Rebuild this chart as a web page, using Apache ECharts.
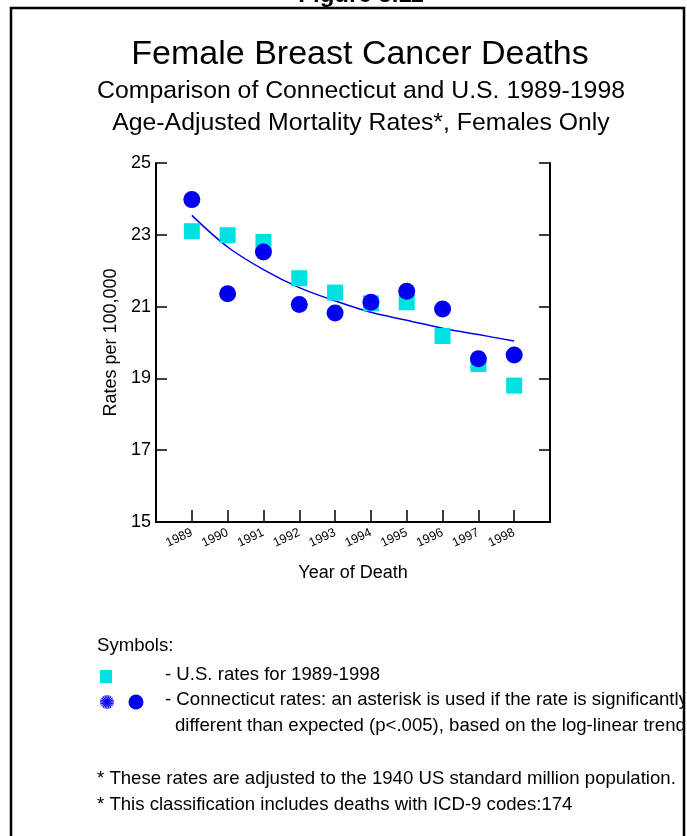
<!DOCTYPE html>
<html>
<head>
<meta charset="utf-8">
<script src="https://cdn.jsdelivr.net/npm/echarts@6/dist/echarts.min.js"></script>
<style>
  html, body { margin: 0; padding: 0; background: #fff; }
  #chart { width: 687px; height: 836px; }
</style>
</head>
<body>
<div id="chart"></div>
<script>
// Age-adjusted female breast cancer mortality, per 100,000
const years = [1989, 1990, 1991, 1992, 1993, 1994, 1995, 1996, 1997, 1998];
const usRates = [23.10, 22.99, 22.80, 21.79, 21.39, 21.09, 21.12, 20.18, 19.40, 18.80];
const ctRates = [23.98, 21.36, 22.52, 21.06, 20.82, 21.12, 21.43, 20.93, 19.55, 19.65];
const ctTrend = [23.54, 22.66, 22.03, 21.53, 21.16, 20.84, 20.62, 20.40, 20.22, 20.04];
const yTickValues = [15, 17, 19, 21, 23, 25];

const FONT = '"Liberation Sans", Arial, Helvetica, sans-serif';
const US_COLOR = '#00E1E1';
const CT_COLOR = '#0000EE';
const NOTE_SIZE = 18.6;

const pairs = (xs, ys) => xs.map((x, i) => [x, ys[i]]);

// starburst glyph used in the symbol key
function starburst(cx, cy, r, n) {
  const out = [];
  for (let i = 0; i < n; i++) {
    const a = (Math.PI * i) / n;
    out.push({
      type: 'line',
      shape: { x1: cx - r * Math.cos(a), y1: cy - r * Math.sin(a), x2: cx + r * Math.cos(a), y2: cy + r * Math.sin(a) },
      style: { stroke: CT_COLOR, lineWidth: 1.2 }
    });
  }
  return out;
}

function text(x, y, str, size, extra) {
  return {
    type: 'text', x: x, y: y,
    style: Object.assign({
      text: str, fontFamily: FONT, fontSize: size, fill: '#000',
      textAlign: 'left', textVerticalAlign: 'middle'
    }, extra || {})
  };
}

const chart = echarts.init(document.getElementById('chart'));

const axisCommon = {
  min: yTickValues[0],
  max: yTickValues[yTickValues.length - 1],
  interval: 2,
  axisLine: { show: true, lineStyle: { color: '#000', width: 2 } },
  axisTick: { show: true, inside: true, length: 11, lineStyle: { color: '#000', width: 1.5 } },
  splitLine: { show: false }
};

chart.setOption({
  animation: false,
  backgroundColor: '#fff',
  grid: { left: 156, right: 137, top: 163, bottom: 314 },
  xAxis: {
    type: 'value',
    min: years[0] - 1,
    max: years[years.length - 1] + 1,
    interval: 1,
    name: 'Year of Death',
    nameLocation: 'middle',
    nameGap: 42,
    nameTextStyle: { fontFamily: FONT, fontSize: 18, color: '#000' },
    axisLine: { show: true, lineStyle: { color: '#000', width: 2 } },
    axisTick: { show: true, inside: true, length: 12, lineStyle: { color: '#000', width: 1.5 } },
    axisLabel: {
      rotate: 25,
      margin: 10,
      fontFamily: FONT, fontSize: 12.5, color: '#000',
      formatter: v => (years.indexOf(v) >= 0 ? String(v) : '')
    },
    splitLine: { show: false }
  },
  yAxis: [
    Object.assign({}, axisCommon, {
      type: 'value',
      position: 'left',
      name: 'Rates per 100,000',
      nameLocation: 'middle',
      nameRotate: 90,
      nameGap: 35,
      nameTextStyle: { fontFamily: FONT, fontSize: 18, color: '#000' },
      axisLabel: { margin: 5, fontFamily: FONT, fontSize: 18, color: '#000' }
    }),
    Object.assign({}, axisCommon, {
      type: 'value',
      position: 'right',
      axisLabel: { show: false }
    })
  ],
  series: [
    {
      name: 'Connecticut trend',
      type: 'line',
      data: pairs(years, ctTrend),
      smooth: 0.35,
      showSymbol: false,
      lineStyle: { color: CT_COLOR, width: 1.5 },
      z: 2
    },
    {
      name: 'U.S.',
      type: 'scatter',
      data: pairs(years, usRates),
      symbol: 'rect',
      symbolSize: 16,
      itemStyle: { color: US_COLOR, opacity: 1 },
      z: 3
    },
    {
      name: 'Connecticut',
      type: 'scatter',
      data: pairs(years, ctRates),
      symbol: 'circle',
      symbolSize: 17,
      itemStyle: { color: CT_COLOR, opacity: 1 },
      z: 4
    }
  ],
  graphic: [
    text(361, -5, 'Figure 3.11', 24, { fontWeight: 'bold', textAlign: 'center' }),
    text(360, 55, 'Female Breast Cancer Deaths', 34, { textAlign: 'center' }),
    text(361, 91, 'Comparison of Connecticut and U.S. 1989-1998', 24.8, { textAlign: 'center' }),
    text(361, 123, 'Age-Adjusted Mortality Rates*, Females Only', 24.8, { textAlign: 'center' }),

    text(97, 646, 'Symbols:', NOTE_SIZE),
    { type: 'rect', shape: { x: 100, y: 670, width: 12, height: 13 }, style: { fill: US_COLOR } },
    text(165, 675, '- U.S. rates for 1989-1998', NOTE_SIZE),
    ...starburst(107, 702, 7, 10),
    { type: 'circle', shape: { cx: 136, cy: 702, r: 7.5 }, style: { fill: CT_COLOR } },
    text(165, 700, '- Connecticut rates: an asterisk is used if the rate is significantly', NOTE_SIZE),
    text(175, 726, 'different than expected (p<.005), based on the log-linear trend', NOTE_SIZE),

    text(97, 779, '* These rates are adjusted to the 1940 US standard million population.', NOTE_SIZE),
    text(97, 805, '* This classification includes deaths with ICD-9 codes:174', NOTE_SIZE),

    // page frame; text running past it is trimmed at the right edge
    { type: 'rect', shape: { x: 685, y: 0, width: 10, height: 836 }, style: { fill: '#fff' }, z: 50 },
    { type: 'rect', shape: { x: 11, y: 8, width: 673, height: 860 }, style: { fill: 'none', stroke: '#000', lineWidth: 2.5 }, z: 51 }
  ]
});
</script>
</body>
</html>
